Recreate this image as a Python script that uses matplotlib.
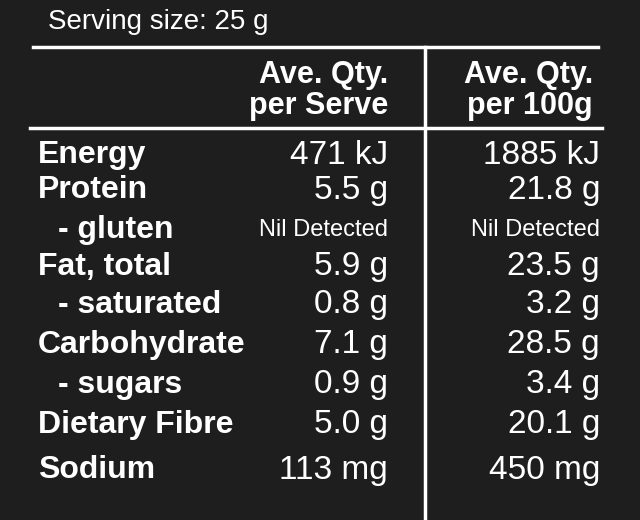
import matplotlib.pyplot as plt

labels = ["Energy", "Protein", "  - gluten", "Fat, total", "  - saturated",
          "Carbohydrate", "  - sugars", "Dietary Fibre", "Sodium"]
per_serve = ["471 kJ", "5.5 g", "Nil Detected", "5.9 g", "0.8 g", "7.1 g", "0.9 g", "5.0 g", "113 mg"]
per_100g = ["1885 kJ", "21.8 g", "Nil Detected", "23.5 g", "3.2 g", "28.5 g", "3.4 g", "20.1 g", "450 mg"]
row_y = [155, 190, 230, 267, 305, 345, 385, 425, 470]

plt.rcParams['font.family'] = ['Liberation Sans', 'DejaVu Sans']
bg = "#1e1e1e"
fig = plt.figure(figsize=(6.4, 5.2), dpi=100, facecolor=bg)
ax = fig.add_axes([0, 0, 1, 1])
ax.set_facecolor(bg)
ax.set_xlim(0, 640)
ax.set_ylim(520, 0)
ax.axis("off")

ax.plot([33, 598], [47, 47], color="white", lw=2.5)
ax.plot([30, 602], [128, 128], color="white", lw=2.5)
ax.plot([425, 425], [47, 520], color="white", lw=2.5)

ax.text(48, 22, "Serving size: 25 g", color="white", fontsize=20, va="center")
ax.text(388, 75, "Ave. Qty.", color="white", fontsize=22, weight="bold", ha="right", va="center")
ax.text(388, 106, "per Serve", color="white", fontsize=22, weight="bold", ha="right", va="center")
ax.text(593, 75, "Ave. Qty.", color="white", fontsize=22, weight="bold", ha="right", va="center")
ax.text(593, 106, "per 100g", color="white", fontsize=22, weight="bold", ha="right", va="center")

for lab, a, b, y in zip(labels, per_serve, per_100g, row_y):
    x = 38
    if lab.startswith("  "):
        lab = lab.strip()
        x = 58
    ax.text(x, y, lab, color="white", fontsize=23, weight="bold", va="center")
    small = a.startswith("Nil")
    fs = 17 if small else 24
    ax.text(388, y, a, color="white", fontsize=fs, ha="right", va="center")
    ax.text(600, y, b, color="white", fontsize=fs, ha="right", va="center")

fig.savefig("out.png", dpi=100, facecolor=bg)
